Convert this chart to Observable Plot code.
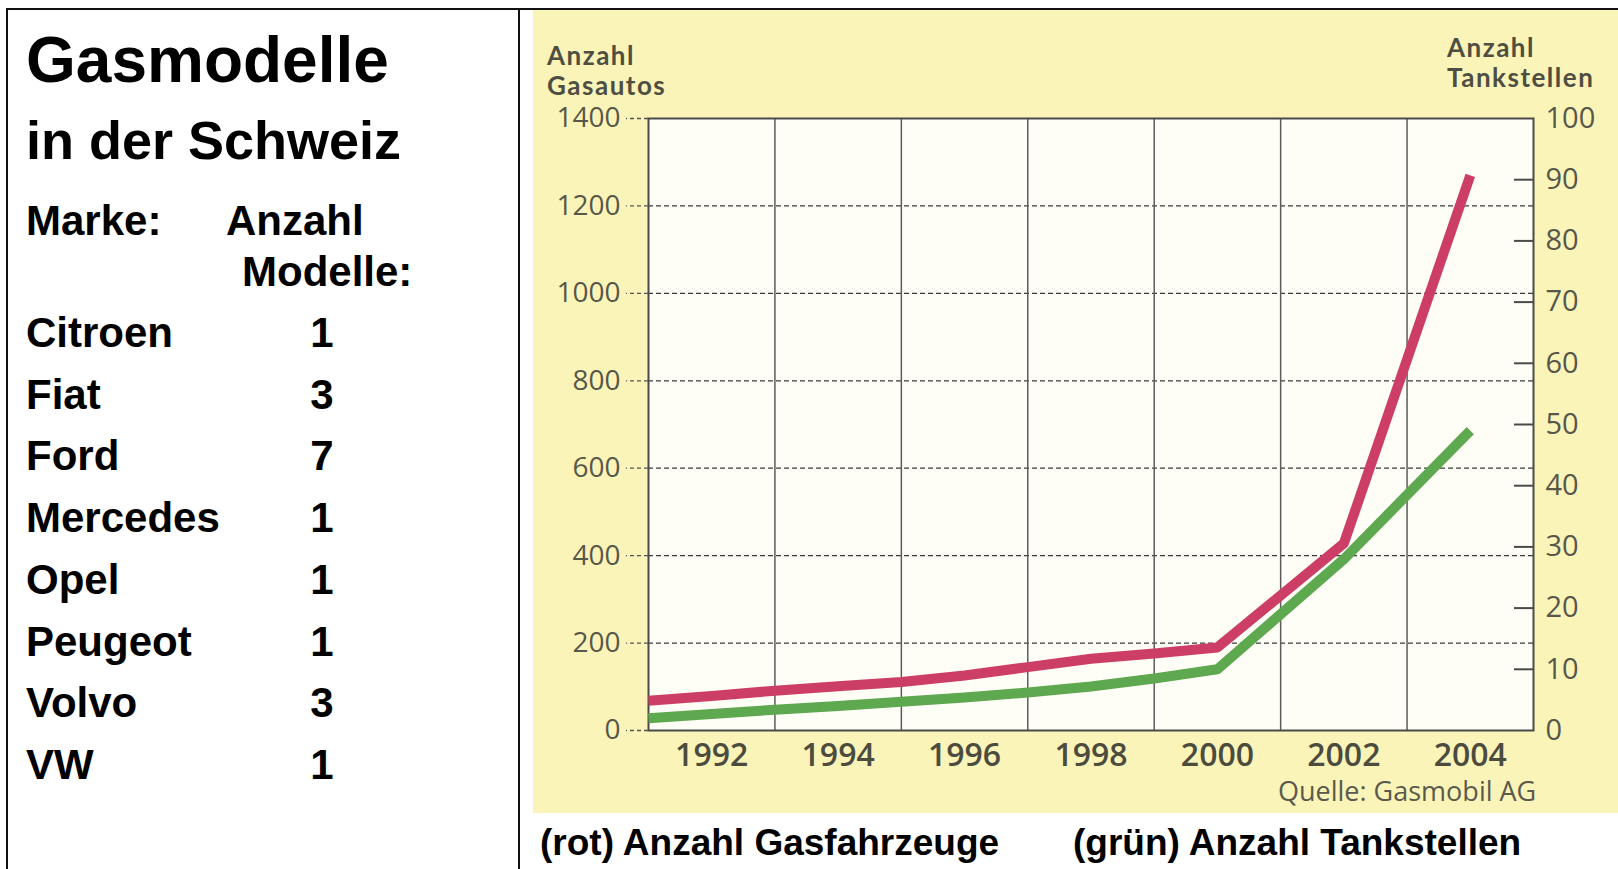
<!DOCTYPE html>
<html><head><meta charset="utf-8">
<script src="https://cdn.jsdelivr.net/npm/d3@7"></script>
<script src="https://cdn.jsdelivr.net/npm/@observablehq/plot@0.6"></script>
<style>
html,body{margin:0;padding:0;background:#fff;}
#page{position:relative;width:1618px;height:869px;overflow:hidden;font-family:"Liberation Sans",Arial,sans-serif;color:#000;}
.bl{position:absolute;background:#111;}
.t{position:absolute;white-space:nowrap;font-weight:bold;}
#panel{position:absolute;left:533px;top:10px;width:1085px;height:803px;background:#fbf4b9;}
#chart{position:absolute;left:0;top:0;}
.ct{position:absolute;white-space:nowrap;font-family:"Open Sans",sans-serif;color:#4e4e42;}
.ttl{position:absolute;white-space:nowrap;font-family:Lato,sans-serif;font-weight:bold;color:#4e4e42;letter-spacing:1.5px;}
</style></head><body>
<div id="page">
  <div class="bl" style="left:6px;top:8px;width:1612px;height:2px;"></div>
  <div class="bl" style="left:6px;top:8px;width:2px;height:861px;"></div>
  <div class="bl" style="left:518px;top:8px;width:2px;height:861px;"></div>
  <div id="left"></div>
  <div id="panel">
    <div id="chart"></div>
  </div>
  <div id="caption"></div>
</div>
<script>
// ---- data ----
const title1 = "Gasmodelle";
const title2 = "in der Schweiz";
const headBrand = "Marke:";
const headCount1 = "Anzahl";
const headCount2 = "Modelle:";
const brands = ["Citroen", "Fiat", "Ford", "Mercedes", "Opel", "Peugeot", "Volvo", "VW"];
const modelCounts = [1, 3, 7, 1, 1, 1, 3, 1];

const autoYears = [1991, 1992, 1993, 1994, 1995, 1996, 1997, 1998, 1999, 2000, 2002, 2004];
const gasautos  = [68, 79, 91, 101, 111, 126, 145, 164, 176, 190, 428, 1270];
const tankYears = [1991, 1992, 1993, 1994, 1995, 1996, 1997, 1998, 1999, 2000, 2002, 2004];
const tankstellen = [2, 2.7, 3.4, 4, 4.7, 5.4, 6.2, 7.2, 8.5, 10, 28, 49];

const leftTicks = [0, 200, 400, 600, 800, 1000, 1200, 1400];
const rightTicks = [0, 10, 20, 30, 40, 50, 60, 70, 80, 90, 100];
const yearLabels = [1992, 1994, 1996, 1998, 2000, 2002, 2004];
const gridYears = [1993, 1995, 1997, 1999, 2001, 2003];
const xDomain = [1991, 2005];

const leftTitle = ["Anzahl", "Gasautos"];
const rightTitle = ["Anzahl", "Tankstellen"];
const source = "Quelle: Gasmobil AG";
const captions = ["(rot) Anzahl Gasfahrzeuge", "(grün) Anzahl Tankstellen"];

// ---- left panel ----
const left = document.getElementById("left");
function addText(parent, txt, x, cy, size, cls, extra) {
  const d = document.createElement("div");
  d.className = cls || "t";
  d.textContent = txt;
  d.style.left = x + "px";
  d.style.top = (cy - size / 2) + "px";
  d.style.fontSize = size + "px";
  d.style.lineHeight = size + "px";
  if (extra) Object.assign(d.style, extra);
  parent.appendChild(d);
  return d;
}
addText(left, title1, 26, 60, 64);
addText(left, title2, 26, 140, 54);
addText(left, headBrand, 26, 221, 42);
addText(left, headCount1, 226, 221, 42);
addText(left, headCount2, 242, 272, 42);
brands.forEach((b, i) => {
  const cy = 333 + i * 61.7;
  addText(left, b, 26, cy, 42);
  addText(left, String(modelCounts[i]), 309, cy, 42, "t", {width: "26px", textAlign: "center"});
});

// ---- captions ----
const cap = document.getElementById("caption");
addText(cap, captions[0], 540, 842, 37);
addText(cap, captions[1], 1073, 842, 37);

// ---- chart ----
const panel = document.getElementById("panel");
const ratio = leftTicks[leftTicks.length - 1] / rightTicks[rightTicks.length - 1];
const W = 1085, H = 800, mL = 115, mT = 108, mR = 85, mB = 80;
const plotW = W - mL - mR;
const red = autoYears.map((y, i) => ({year: y, v: gasautos[i]}));
const green = tankYears.map((y, i) => ({year: y, v: tankstellen[i]}));
const txtCol = "#57574a";

const chart = Plot.plot({
  width: W, height: H,
  marginLeft: mL, marginTop: mT, marginRight: mR, marginBottom: mB,
  style: {background: "transparent", fontFamily: "'Open Sans', sans-serif", overflow: "visible"},
  x: {domain: xDomain, axis: null},
  y: {domain: [leftTicks[0], leftTicks[leftTicks.length - 1]], axis: null},
  marks: [
    Plot.frame({fill: "#fffef6", stroke: null}),
    Plot.ruleY(leftTicks.slice(1, -1), {stroke: "#3a3a3a", strokeWidth: 1.3, strokeDasharray: "5,3"}),
    Plot.ruleX(gridYears, {stroke: "#5c5c5c", strokeWidth: 1.5}),
    Plot.ruleY(rightTicks.slice(1, -1), {y: d => d * ratio, insetLeft: plotW - 19, stroke: "#4a4a4a", strokeWidth: 2}),
    Plot.frame({stroke: "#4a4a4a", strokeWidth: 2}),
    Plot.axisY({ticks: leftTicks, tickFormat: d => String(d), tickSize: 22, tickPadding: 6,
      stroke: "#555", strokeDasharray: "4,3", strokeWidth: 1.3, fill: txtCol, fontSize: 28, label: null}),
    Plot.axisY({anchor: "right", ticks: rightTicks.map(v => v * ratio), tickFormat: d => String(Math.round(d / ratio)),
      tickSize: 0, tickPadding: 12, fill: txtCol, fontSize: 29, label: null}),
    Plot.axisX({ticks: yearLabels, tickFormat: d => String(d), tickSize: 0, tickPadding: 13,
      fill: "#4b4b3e", fontSize: 32, fontWeight: 600, label: null}),
    Plot.line(red, {x: "year", y: "v", stroke: "#cd3e66", strokeWidth: 10, strokeLinecap: "butt", strokeLinejoin: "round"}),
    Plot.line(green, {x: "year", y: d => d.v * ratio, stroke: "#5ea84f", strokeWidth: 10, strokeLinecap: "butt", strokeLinejoin: "round"})
  ]
});
document.getElementById("chart").appendChild(chart);

// chart titles (positions relative to panel), one text per line
const px = 533, py = 10;
function addTitle(lines, x, firstCy, step, size) {
  lines.forEach((l, i) => {
    const d = document.createElement("div");
    d.className = "ttl";
    d.textContent = l;
    d.style.left = (x - px) + "px";
    d.style.top = (firstCy + i * step - size * 0.55 - py) + "px";
    d.style.fontSize = size + "px";
    d.style.lineHeight = (size * 1.1) + "px";
    panel.appendChild(d);
  });
}
addTitle(leftTitle, 547, 55, 30, 26);
addTitle(rightTitle, 1447, 47, 30, 26);
addText(panel, source, 1278 - px, 790 - py, 27, "ct", {color: "#5a5a4c"});
</script>
</body></html>
